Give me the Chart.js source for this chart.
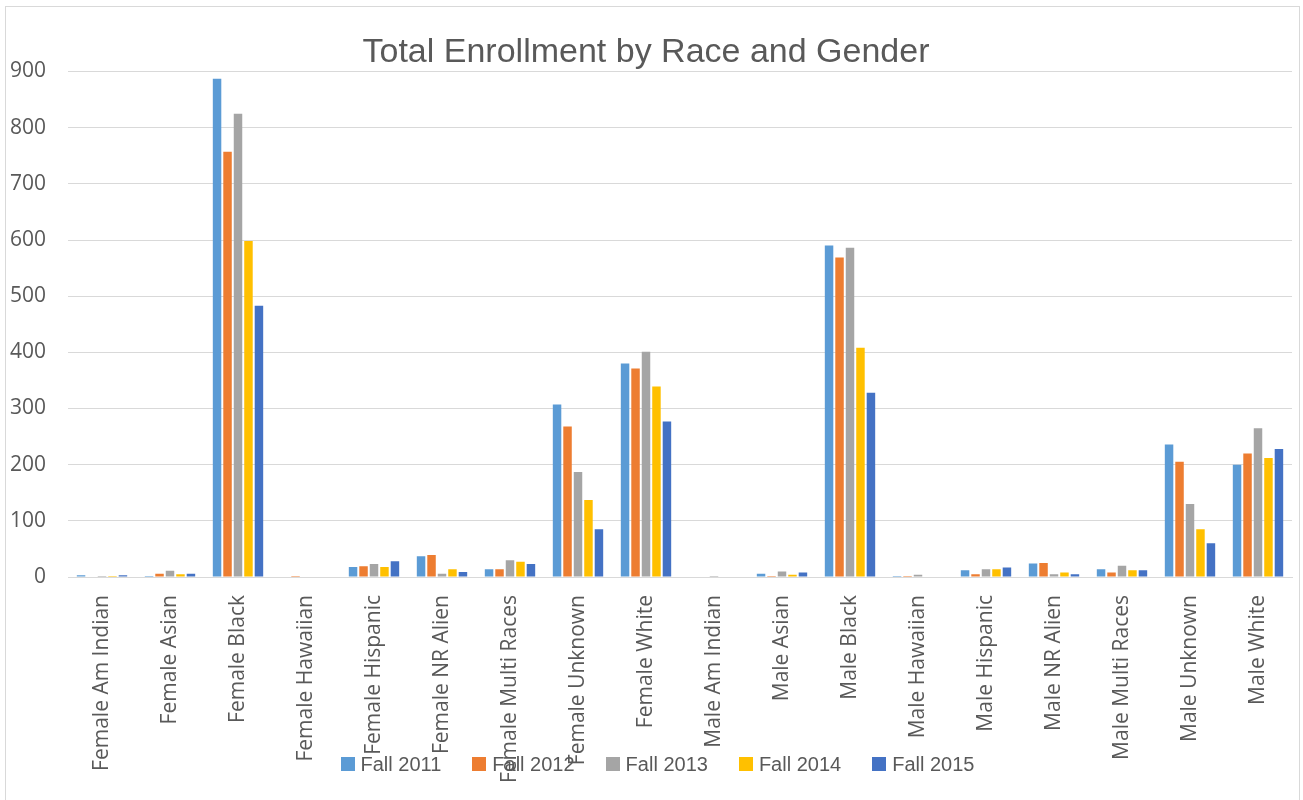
<!DOCTYPE html>
<html>
<head>
<meta charset="utf-8">
<script src="https://cdn.jsdelivr.net/npm/chart.js@4/dist/chart.umd.min.js"></script>
<style>
  html, body { margin: 0; padding: 0; background: #fff; }
  #wrap { position: relative; width: 1303px; height: 800px; }
  #frame { position: absolute; left: 5px; top: 6px; width: 1295px; height: 800px; border: 1px solid #d9d9d9; box-sizing: border-box; pointer-events: none; }
  #legend { position: absolute; left: 6px; width: 1303px; top: 754px; display: flex; justify-content: center; font: 20px "Liberation Sans", sans-serif; line-height: 20px; color: #595959; }
  #legend .item { display: flex; align-items: center; margin: 0 15.5px; }
  #legend .sw { display: inline-block; width: 14px; height: 14px; margin-right: 6px; }
</style>
</head>
<body>
<div id="wrap">
  <canvas id="chartCanvas" width="1303" height="800"></canvas>
  <div id="frame"></div>
  <div id="legend"></div>
</div>
<script>
// 類別
var categories = ['Female Am Indian', 'Female Asian', 'Female Black', 'Female Hawaiian', 'Female Hispanic',
  'Female NR Alien', 'Female Multi Races', 'Female Unknown', 'Female White', 'Male Am Indian', 'Male Asian',
  'Male Black', 'Male Hawaiian', 'Male Hispanic', 'Male NR Alien', 'Male Multi Races', 'Male Unknown', 'Male White'];

// 各學期數值
var fall2011 = [3, 2, 887, 1, 18, 37, 14, 307, 380, 0, 6, 590, 2, 12, 24, 14, 236, 200];
var fall2012 = [1, 6, 757, 2, 19, 39, 14, 268, 371, 0, 2, 569, 2, 5, 25, 8, 205, 220];
var fall2013 = [2, 11, 825, 1, 23, 6, 30, 187, 401, 2, 10, 586, 4, 14, 5, 20, 130, 265];
var fall2014 = [2, 5, 598, 1, 18, 14, 27, 137, 339, 0, 4, 408, 0, 14, 8, 12, 85, 212];
var fall2015 = [3, 6, 483, 1, 28, 9, 23, 85, 277, 0, 8, 328, 0, 17, 5, 12, 60, 228];

var seriesNames = ['Fall 2011', 'Fall 2012', 'Fall 2013', 'Fall 2014', 'Fall 2015'];
var seriesData = [fall2011, fall2012, fall2013, fall2014, fall2015];
var colors = ['#5b9bd5', '#ed7d31', '#a5a5a5', '#ffc000', '#4472c4'];

var datasets = [];
for (var i = 0; i < seriesNames.length; i++) {
  datasets.push({
    label: seriesNames[i],
    data: seriesData[i],
    backgroundColor: colors[i],
    borderWidth: 0,
    categoryPercentage: 0.77,
    barPercentage: 0.81
  });
}

// 自製圖例（與 x 軸標籤重疊，如原圖）
var legendHTML = '';
for (var j = 0; j < seriesNames.length; j++) {
  legendHTML += '<span class="item"><span class="sw" style="background:' + colors[j] + '"></span>' + seriesNames[j] + '</span>';
}
document.getElementById('legend').innerHTML = legendHTML;

new Chart(document.getElementById('chartCanvas').getContext('2d'), {
  type: 'bar',
  data: { labels: categories, datasets: datasets },
  options: {
    responsive: false,
    animation: false,
    layout: { padding: { left: 0, right: 11, top: 0, bottom: 0 } },
    plugins: {
      legend: { display: false },
      tooltip: { enabled: false },
      title: {
        display: true,
        text: 'Total Enrollment by Race and Gender',
        color: '#595959',
        font: { family: '"Liberation Sans", sans-serif', size: 34, weight: 'normal', lineHeight: 1.0 },
        padding: { top: 36, bottom: 1.5 }
      }
    },
    scales: {
      x: {
        grid: { display: false, drawTicks: false },
        border: { display: true, color: '#d9d9d9', width: 1 },
        ticks: {
          color: '#595959',
          font: { family: '"Open Sans", sans-serif', size: 21 },
          minRotation: 90,
          maxRotation: 90,
          autoSkip: false,
          padding: 18
        },
        afterFit: function(scale) { scale.height = 223; }
      },
      y: {
        min: 0,
        max: 900,
        grid: { color: '#d9d9d9', drawTicks: false },
        border: { display: false },
        ticks: {
          stepSize: 100,
          color: '#595959',
          font: { family: '"Open Sans", sans-serif', size: 21 },
          padding: 22
        },
        afterFit: function(scale) { scale.width = 68; }
      }
    }
  }
});
</script>
</body>
</html>
